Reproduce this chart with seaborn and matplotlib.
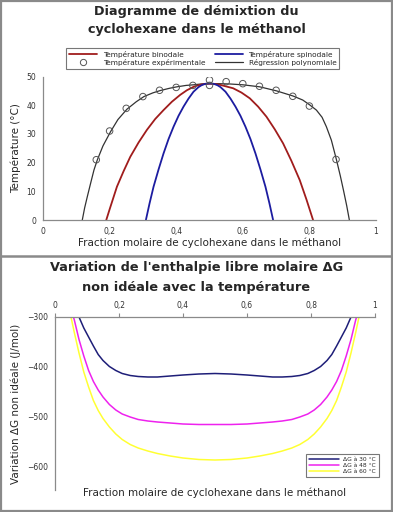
import matplotlib
matplotlib.use("Agg")
import matplotlib.pyplot as plt
from matplotlib.lines import Line2D
import numpy as np
import pandas as pd
import seaborn as sns

# --- top panel: demixing diagram ---
x_exp = [0.16, 0.20, 0.25, 0.30, 0.35, 0.40, 0.45, 0.50, 0.50, 0.55, 0.60, 0.65, 0.70, 0.75, 0.80, 0.88]
t_exp = [21.0, 31.0, 38.9, 43.0, 45.2, 46.2, 46.9, 48.8, 46.9, 48.2, 47.5, 46.6, 45.2, 43.1, 39.7, 21.1]

x_reg = [0.118, 0.125, 0.133, 0.143, 0.153, 0.163, 0.18, 0.203, 0.225, 0.252, 0.28, 0.303, 0.33,
         0.352, 0.38, 0.402, 0.43, 0.452, 0.475, 0.50, 0.53, 0.56, 0.601, 0.651, 0.701, 0.751,
         0.78, 0.801, 0.821, 0.838, 0.851, 0.866, 0.881, 0.893, 0.903, 0.912, 0.920]
t_reg = [0.0, 4.2, 8.1, 12.8, 17.4, 20.9, 25.8, 30.8, 35.0, 38.6, 41.2, 43.0, 44.3,
         45.1, 45.9, 46.4, 46.9, 47.1, 47.4, 47.5, 47.5, 47.4, 47.1, 46.4, 45.0, 43.2,
         41.8, 40.1, 38.3, 35.8, 32.5, 27.8, 21.1, 15.3, 10.0, 5.0, 0.0]

x_bin = [0.19, 0.20, 0.222, 0.242, 0.262, 0.287, 0.312, 0.337, 0.362, 0.387, 0.412, 0.432, 0.452, 0.465,
         0.477, 0.488, 0.50, 0.512, 0.523, 0.535, 0.548, 0.571, 0.596, 0.621, 0.646, 0.671, 0.696,
         0.721, 0.746, 0.771, 0.791, 0.811]
t_bin = [0.0, 3.7, 11.6, 17.0, 22.0, 27.0, 31.4, 35.2, 38.3, 41.2, 43.6, 45.2, 46.4, 46.9,
         47.25, 47.45, 47.5, 47.45, 47.3, 47.0, 46.6, 45.9, 44.4, 42.4, 39.5, 36.0, 31.6,
         26.7, 20.6, 13.9, 7.2, 0.0]

x_spi = [0.309, 0.32, 0.332, 0.347, 0.362, 0.377, 0.392, 0.407, 0.422, 0.437, 0.452, 0.467, 0.476,
         0.485, 0.493, 0.50, 0.507, 0.515, 0.524, 0.533, 0.548, 0.563, 0.578, 0.593, 0.608, 0.623,
         0.638, 0.653, 0.668, 0.68, 0.691]
t_spi = [0.0, 5.8, 11.6, 17.6, 23.2, 28.2, 32.5, 36.3, 39.5, 42.3, 44.7, 46.3, 46.95,
         47.35, 47.55, 47.6, 47.55, 47.35, 46.95, 46.3, 44.7, 42.3, 39.5, 36.3, 32.5, 28.2,
         23.2, 17.6, 11.6, 5.8, 0.0]

# --- bottom panel: non-ideal molar free enthalpy ---
x_dg = [0.04, 0.05, 0.06, 0.075, 0.09, 0.105, 0.12, 0.135, 0.15, 0.17, 0.19, 0.21, 0.235, 0.26,
        0.29, 0.32, 0.36, 0.40, 0.45, 0.50, 0.55, 0.60, 0.64, 0.68, 0.71, 0.74, 0.765, 0.79,
        0.81, 0.83, 0.85, 0.865, 0.88, 0.895, 0.91, 0.925, 0.94, 0.95, 0.96]
dg_30 = [-215, -240, -265, -300, -322, -340, -358, -375, -387, -399, -407, -413, -417, -419,
         -420, -420, -418, -416, -414, -413, -414, -416, -418, -420, -420, -419, -417, -413,
         -407, -399, -387, -375, -358, -340, -322, -300, -265, -240, -215]
dg_48 = [-255, -285, -305, -345, -378, -407, -429, -446, -460, -475, -486, -494, -500, -505,
         -508, -510, -512, -514, -515, -515, -515, -514, -512, -510, -508, -505, -500, -494,
         -486, -475, -460, -446, -429, -407, -378, -345, -305, -285, -255]
dg_60 = [-268, -300, -330, -372, -410, -440, -467, -487, -503, -520, -534, -545, -555, -562,
         -568, -573, -578, -582, -585, -586, -585, -582, -578, -573, -568, -562, -555, -545,
         -534, -520, -503, -487, -467, -440, -410, -372, -330, -300, -268]

xticks = [0, 0.2, 0.4, 0.6, 0.8, 1]
xtick_labels = ["0", "0,2", "0,4", "0,6", "0,8", "1"]

sns.set_theme(style="white")
plt.rcParams["font.family"] = ["DejaVu Sans"]

GREY = "#8a8a8a"
TICK_TXT = "#333333"

fig = plt.figure(figsize=(3.93, 5.12), dpi=100)

# frame + divider
fig.add_artist(plt.Rectangle((0.002, 0.002), 0.996, 0.996, transform=fig.transFigure,
                             fill=False, edgecolor=GREY, linewidth=1.6))
fig.add_artist(Line2D([0, 1], [1 - 256 / 512, 1 - 256 / 512], transform=fig.transFigure,
                      color=GREY, linewidth=1.8))


def style_axis(ax):
    for side in ["left", "right", "top", "bottom"]:
        ax.spines[side].set_color(GREY)
        ax.spines[side].set_linewidth(0.9)
    ax.tick_params(axis="both", direction="out", length=3, width=0.8, color=GREY,
                   labelsize=5.5, labelcolor=TICK_TXT, pad=2)


# ---------- top ----------
ax1 = fig.add_axes([43 / 393, 1 - 220 / 512, 333 / 393, 143.5 / 512])
sns.lineplot(x=x_reg, y=t_reg, sort=False, estimator=None, color="#333333", linewidth=0.9, ax=ax1)
sns.lineplot(x=x_bin, y=t_bin, sort=False, estimator=None, color="#a01c1c", linewidth=1.3, ax=ax1)
sns.lineplot(x=x_spi, y=t_spi, sort=False, estimator=None, color="#1c1ca0", linewidth=1.3, ax=ax1)
ax1.scatter(x_exp, t_exp, s=22, facecolors="none", edgecolors="#555555", linewidths=0.7, zorder=5)
ax1.set_xlim(0, 1)
ax1.set_ylim(0, 50)
ax1.set_xticks(xticks)
ax1.set_xticklabels(xtick_labels)
ax1.set_yticks([0, 10, 20, 30, 40, 50])
ax1.spines["top"].set_visible(False)
ax1.spines["right"].set_visible(False)
style_axis(ax1)
ax1.set_xlabel("Fraction molaire de cyclohexane dans le méthanol", fontsize=7.5, labelpad=1)
ax1.set_ylabel("Température (°C)", fontsize=7.5, labelpad=4)

handles1 = [
    Line2D([], [], color="#a01c1c", linewidth=1.3),
    Line2D([], [], marker="o", linestyle="none", markerfacecolor="none",
           markeredgecolor="#555555", markersize=4.5, markeredgewidth=0.7),
    Line2D([], [], color="#1c1ca0", linewidth=1.3),
    Line2D([], [], color="#333333", linewidth=0.9),
]
labels1 = ["Température binodale", "Température expérimentale",
           "Température spinodale", "Régression polynomiale"]
leg1 = fig.legend(handles1, labels1, ncol=2, loc="center", bbox_to_anchor=(202.5 / 393, 1 - 58.5 / 512),
                  fontsize=5.3, frameon=True, fancybox=False, handlelength=3.8, columnspacing=1.3,
                  borderpad=0.35, labelspacing=0.15, handletextpad=0.8)
leg1.get_frame().set_edgecolor("#555555")
leg1.get_frame().set_linewidth(0.8)

fig.text(0.5, 1 - 12 / 512, "Diagramme de démixtion du", ha="center", va="center",
         fontsize=9.2, fontweight="bold")
fig.text(0.5, 1 - 30 / 512, "cyclohexane dans le méthanol", ha="center", va="center",
         fontsize=9.2, fontweight="bold")

# ---------- bottom ----------
df_dg = pd.DataFrame({"x": x_dg * 3,
                      "dg": dg_30 + dg_48 + dg_60,
                      "serie": ["ΔG à 30 °C"] * len(x_dg) + ["ΔG à 48 °C"] * len(x_dg)
                      + ["ΔG à 60 °C"] * len(x_dg)})
ax2 = fig.add_axes([55 / 393, 1 - 490 / 512, 320 / 393, 173 / 512])
sns.lineplot(data=df_dg, x="x", y="dg", hue="serie", sort=False, estimator=None,
             palette=["#1e1e78", "#ee22ee", "#ffff33"], linewidth=1.1, ax=ax2)
ax2.set_xlim(0, 1)
ax2.set_ylim(-646, -300)
ax2.xaxis.tick_top()
ax2.set_xticks(xticks)
ax2.set_xticklabels(xtick_labels)
ax2.set_yticks([-300, -400, -500, -600])
ax2.spines["bottom"].set_visible(False)
ax2.spines["right"].set_visible(False)
style_axis(ax2)
ax2.set_xlabel("Fraction molaire de cyclohexane dans le méthanol", fontsize=7.5, labelpad=-2)
ax2.xaxis.set_label_position("bottom")
ax2.set_ylabel("Variation ΔG non idéale (J/mol)", fontsize=7.5, labelpad=4)
leg2 = ax2.legend(loc="lower right", bbox_to_anchor=(382 / 393, 1 - 480 / 512),
                  bbox_transform=fig.transFigure, fontsize=4.3, frameon=True, fancybox=False,
                  handlelength=5, borderpad=0.5, labelspacing=0.15, handletextpad=0.8, title=None)
leg2.get_frame().set_edgecolor("#555555")
leg2.get_frame().set_linewidth(0.8)

fig.text(0.5, 1 - 268 / 512, "Variation de l'enthalpie libre molaire ΔG", ha="center", va="center",
         fontsize=9.3, fontweight="bold")
fig.text(0.5, 1 - 287 / 512, "non idéale avec la température", ha="center", va="center",
         fontsize=9.3, fontweight="bold")

fig.savefig("out.png", dpi=100)
